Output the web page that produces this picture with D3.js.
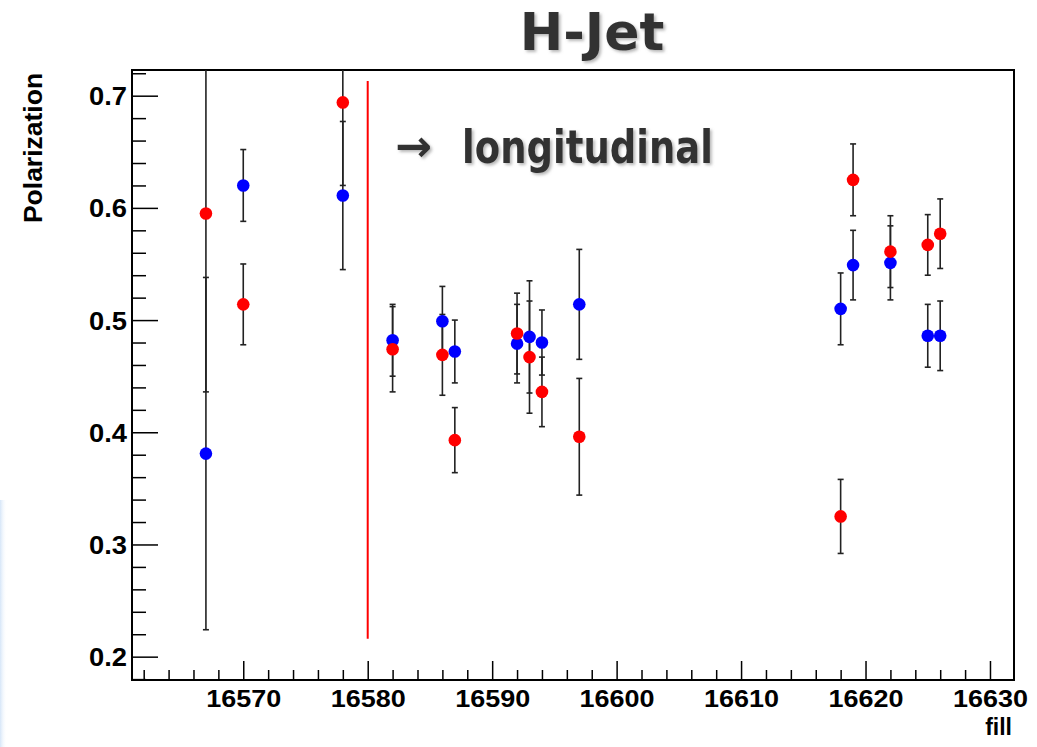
<!DOCTYPE html>
<html>
<head>
<meta charset="utf-8">
<script src="https://cdn.jsdelivr.net/npm/d3@7"></script>
<style>
body{margin:0;background:#fff;}
#chart svg{display:block;}
.axis text{font-family:"Liberation Sans",Arial,sans-serif;font-weight:bold;fill:#000;}
.axis line{stroke:#000;stroke-width:1.5;}
.axis path{display:none;}
</style>
</head>
<body>
<div id="chart"></div>
<script>
(function(){
"use strict";

// fills and polarization values
var fills   = [16567,16570,16578,16582,16586,16587,16592,16593,16594,16597,16618,16619,16622,16625,16626];
var bluePol = [0.381,0.620,0.611,0.482,0.499,0.472,0.479,0.485,0.480,0.514,0.510,0.549,0.551,0.486,0.486];
var blueErr = [0.157,0.032,0.066,0.032,0.031,0.028,0.035,0.050,0.029,0.049,0.032,0.031,0.033,0.028,0.031];
var redPol  = [0.595,0.514,0.694,0.474,0.469,0.393,0.488,0.467,0.436,0.396,0.325,0.625,0.561,0.567,0.577];
var redErr  = [0.159,0.036,0.074,0.038,0.036,0.029,0.036,0.050,0.031,0.052,0.033,0.032,0.032,0.027,0.031];

var xTicks = [16570,16580,16590,16600,16610,16620,16630];
var yTicks = [0.2,0.3,0.4,0.5,0.6,0.7];
var cutFill = 16580;          // red line: switch to longitudinal
var cutRange = [0.216,0.713];

var W = 1037, H = 747;
var margin = {top:70, right:23, bottom:67, left:132};
var width = W - margin.left - margin.right;
var height = H - margin.top - margin.bottom;

var x = d3.scaleLinear().domain([16561.06,16631.93]).range([0,width]);
var y = d3.scaleLinear().domain([0.1792,0.7229]).range([height,0]);

var svg = d3.select('#chart').append('svg')
	.attr('width', W)
	.attr('height', H);

var defs = svg.append('defs');
var grad = defs.append('linearGradient').attr('id','edge').attr('x1',0).attr('x2',1);
grad.append('stop').attr('offset','0%').attr('stop-color','#d6e6f8');
grad.append('stop').attr('offset','100%').attr('stop-color','#fff').attr('stop-opacity',0);
var shadow = defs.append('filter').attr('id','shadow').attr('x','-10%').attr('y','-10%').attr('width','130%').attr('height','140%');
shadow.append('feDropShadow').attr('dx',2).attr('dy',2).attr('stdDeviation',1.5)
	.attr('flood-color','#888').attr('flood-opacity',0.6);
defs.append('clipPath').attr('id','frame')
	.append('rect').attr('width', width).attr('height', height);

// faint slide background at the left edge
svg.append('rect')
	.attr('x',0).attr('y',500).attr('width',7).attr('height',H-500)
	.attr('fill','url(#edge)');

var g = svg.append('g')
	.attr('transform','translate(' + margin.left + ',' + margin.top + ')');

// minor ticks
var minorX = d3.range(16562,16632,2).filter(function(d){ return d % 10 !== 0; });
var minorY = d3.range(18,73,2).map(function(d){ return d/100; })
	.filter(function(d){ return Math.round(d*100) % 10 !== 0; });

g.append('g')
	.attr('class','axis')
	.attr('transform','translate(0,' + height + ')')
	.call(d3.axisBottom(x).tickValues(minorX).tickSize(-10).tickFormat(''));
g.append('g')
	.attr('class','axis')
	.call(d3.axisLeft(y).tickValues(minorY).tickSize(-14).tickFormat(''));

var xAxis = g.append('g')
	.attr('class','axis')
	.attr('transform','translate(0,' + height + ')')
	.call(d3.axisBottom(x).tickValues(xTicks).tickSize(-19).tickPadding(11).tickFormat(d3.format('d')));
xAxis.selectAll('text')
	.style('font-size','23px')
	.attr('textLength',75)
	.attr('lengthAdjust','spacingAndGlyphs');

var yAxis = g.append('g')
	.attr('class','axis')
	.call(d3.axisLeft(y).tickValues(yTicks).tickSize(-26).tickPadding(5).tickFormat(d3.format('.1f')));
yAxis.selectAll('text')
	.style('font-size','25px')
	.attr('dy','0.36em')
	.attr('textLength',38)
	.attr('lengthAdjust','spacingAndGlyphs');

// frame
g.append('rect')
	.attr('width', width)
	.attr('height', height)
	.attr('fill','none')
	.attr('stroke','#000')
	.attr('stroke-width',2);

var plot = g.append('g').attr('clip-path','url(#frame)');

function series(pol, err, color){
	return fills.map(function(f,i){
		return {fill:f, v:pol[i], e:err[i], color:color};
	});
}
var blue = series(bluePol, blueErr, '#0000ff');
var red = series(redPol, redErr, '#ff0000');
var all = blue.concat(red);

// error bars
var bars = plot.selectAll('.err')
	.data(all)
	.enter()
	.append('g')
		.attr('class','err')
		.attr('stroke','#222')
		.attr('stroke-width',1.6);
bars.append('line')
	.attr('x1', function(d){ return x(d.fill); })
	.attr('x2', function(d){ return x(d.fill); })
	.attr('y1', function(d){ return y(d.v + d.e); })
	.attr('y2', function(d){ return y(d.v - d.e); });
bars.append('line')
	.attr('x1', function(d){ return x(d.fill) - 3; })
	.attr('x2', function(d){ return x(d.fill) + 3; })
	.attr('y1', function(d){ return y(d.v + d.e); })
	.attr('y2', function(d){ return y(d.v + d.e); });
bars.append('line')
	.attr('x1', function(d){ return x(d.fill) - 3; })
	.attr('x2', function(d){ return x(d.fill) + 3; })
	.attr('y1', function(d){ return y(d.v - d.e); })
	.attr('y2', function(d){ return y(d.v - d.e); });

// markers
plot.selectAll('.dot')
	.data(all)
	.enter()
	.append('circle')
		.attr('class','dot')
		.attr('cx', function(d){ return x(d.fill); })
		.attr('cy', function(d){ return y(d.v); })
		.attr('r', 6.3)
		.attr('fill', function(d){ return d.color; });

// longitudinal cut line
g.append('line')
	.attr('x1', x(cutFill)).attr('x2', x(cutFill))
	.attr('y1', y(cutRange[1])).attr('y2', y(cutRange[0]))
	.attr('stroke','#ff0000')
	.attr('stroke-width',2);

// axis titles
svg.append('text')
	.attr('transform','translate(41.5,148) rotate(-90)')
	.attr('text-anchor','middle')
	.style('font-family','"Liberation Sans",Arial,sans-serif')
	.style('font-weight','bold')
	.style('font-size','26.5px')
	.text('Polarization');

svg.append('text')
	.attr('x',1012).attr('y',735)
	.attr('text-anchor','end')
	.style('font-family','"Liberation Sans",Arial,sans-serif')
	.style('font-weight','bold')
	.style('font-size','23px')
	.text('fill');

// slide annotations
svg.append('text')
	.attr('x',592).attr('y',50)
	.attr('text-anchor','middle')
	.attr('filter','url(#shadow)')
	.style('font-family','"Comic Sans MS","DejaVu Sans",sans-serif')
	.style('font-weight','bold')
	.style('font-size','52px')
	.style('fill','#333')
	.text('H-Jet');

svg.append('text')
	.attr('x',395).attr('y',161)
	.attr('filter','url(#shadow)')
	.style('font-family','"DejaVu Sans",sans-serif')
	.style('font-weight','bold')
	.style('font-size','44px')
	.style('fill','#333')
	.text('\u2192');

svg.append('text')
	.attr('x',462).attr('y',163)
	.attr('textLength',251)
	.attr('lengthAdjust','spacingAndGlyphs')
	.attr('filter','url(#shadow)')
	.style('font-family','"Comic Sans MS","DejaVu Sans",sans-serif')
	.style('font-weight','bold')
	.style('font-size','46px')
	.style('fill','#333')
	.text('longitudinal');

})();
</script>
</body>
</html>
